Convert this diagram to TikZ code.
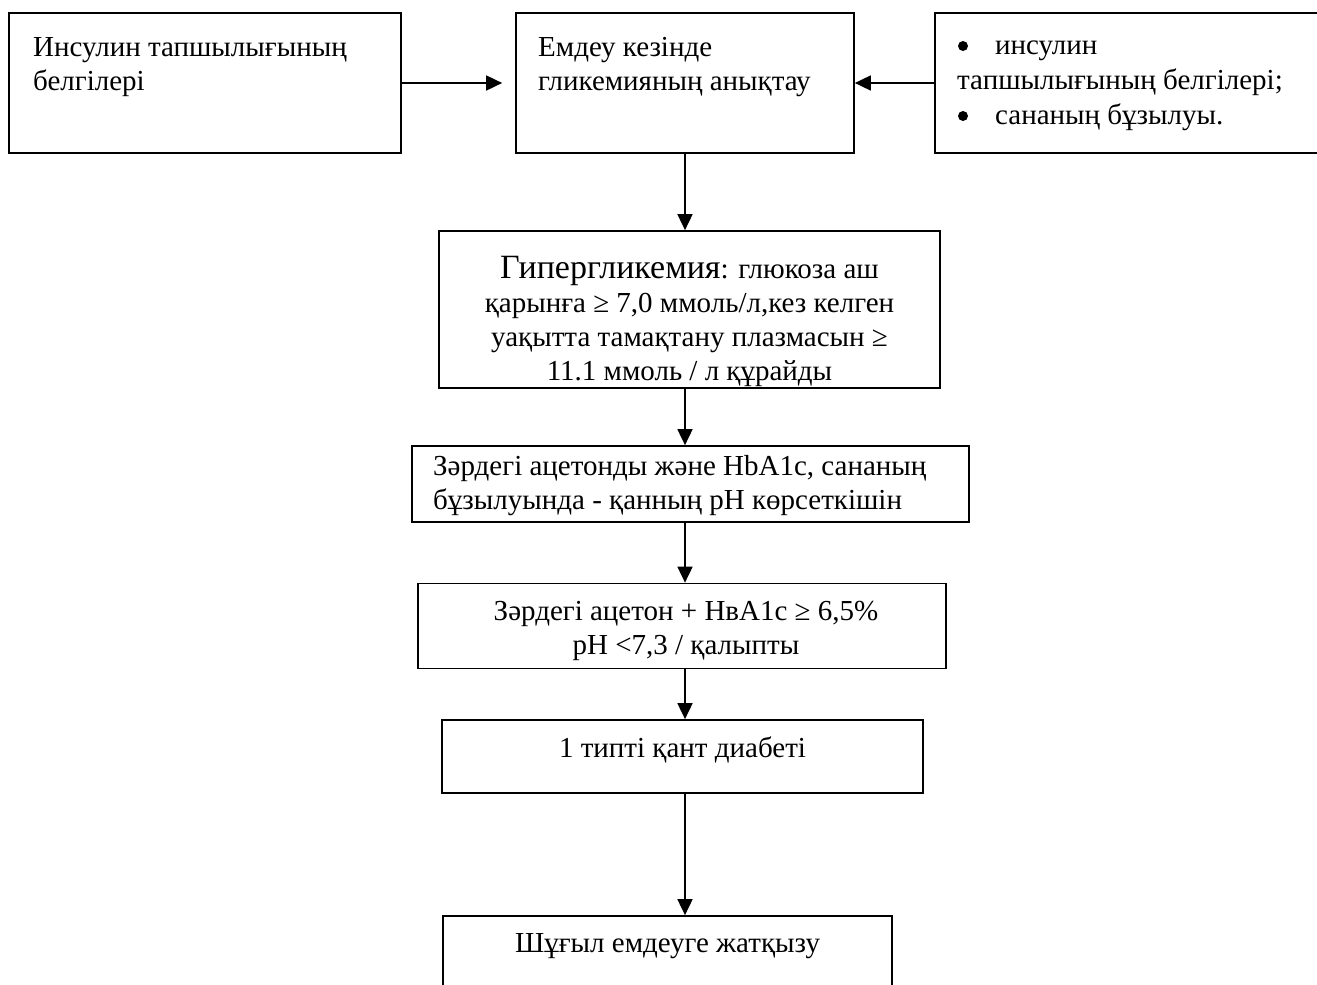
\documentclass[tikz,border=0pt]{standalone}
\usepackage{fontspec}
\setmainfont{Liberation Serif}
\usetikzlibrary{arrows.meta}
\begin{document}
\begin{tikzpicture}[x=1pt,y=-1pt,
  box/.style={draw, line width=1.7pt, inner sep=0pt, rectangle},
  txt/.style={inner sep=0pt, font=\fontsize{29}{34}\selectfont},
  bul/.style={circle, fill=black, inner sep=0pt, minimum size=10pt},
  arr/.style={line width=1.7pt, -{Triangle[length=16pt,width=15pt]}}]
\useasboundingbox (0,0) rectangle (1317,985);
\fill[white] (0,0) rectangle (1317,985);
\clip (0,0) rectangle (1317,985);
% boxes
\node[box, minimum width=392pt, minimum height=140pt] (b1) at (205,83) {};
\node[box, minimum width=338pt, minimum height=140pt] (b2) at (685,83) {};
\node[box, minimum width=405pt, minimum height=140pt] (b3) at (1137.5,83) {};
\node[box, minimum width=501pt, minimum height=157pt] (b4) at (689.5,309.5) {};
\node[box, minimum width=557pt, minimum height=76pt] (b5) at (690.5,484) {};
\node[box, minimum width=528pt, minimum height=85pt] (b6) at (682,626) {};
\node[box, minimum width=481pt, minimum height=73pt] (b7) at (682.5,756.5) {};
\node[box, minimum width=449pt, minimum height=84pt] (b8) at (667.5,958) {};
% texts
\node[txt, anchor=north west, align=left] (t1) at (33,37) {Инсулин тапшылығының\\белгілері};
\node[txt, anchor=north west, align=left] (t2) at (538,37) {Емдеу кезінде\\гликемияның анықтау};
\node[txt, anchor=north west, align=left, font=\fontsize{29}{35}\selectfont] (t3) at (957,41) {\hspace*{38pt}инсулин\\тапшылығының белгілері;\\\hspace*{38pt}сананың бұзылуы.};
\node[bul] (bu1) at (963,46) {};
\node[bul] (bu2) at (963,116) {};
\node[txt, anchor=north, align=center] (t4) at (689.5,256) {{\fontsize{34}{34}\selectfont Гипергликемия}: глюкоза аш\\қарынға ≥ 7,0 ммоль/л,кез келген\\уақытта тамақтану плазмасын ≥\\11.1 ммоль / л құрайды};
\node[txt, anchor=north west, align=left] (t5) at (433,455) {Зәрдегі ацетонды және HbA1c, сананың\\бұзылуында - қанның рН көрсеткішін};
\node[txt, anchor=north, align=center] (t6) at (686,601) {Зәрдегі ацетон + НвА1с ≥ 6,5\%\\рН <7,3 / қалыпты};
\node[txt, anchor=north] (t7) at (682.5,737) {1 типті қант диабеті};
\node[txt, anchor=north] (t8) at (667.5,933) {Шұғыл емдеуге жатқызу};
% arrows
\draw[arr, shorten >=13pt] (b1.east) -- (b2.west);
\draw[arr] (b3.west) -- (b2.east);
\draw[arr] (b2.south) -- (b2.south |- b4.north);
\draw[arr] (b2.south |- b4.south) -- (b2.south |- b5.north);
\draw[arr] (b2.south |- b5.south) -- (b2.south |- b6.north);
\draw[arr] (b2.south |- b6.south) -- (b2.south |- b7.north);
\draw[arr] (b2.south |- b7.south) -- (b2.south |- b8.north);
\end{tikzpicture}
\end{document}
